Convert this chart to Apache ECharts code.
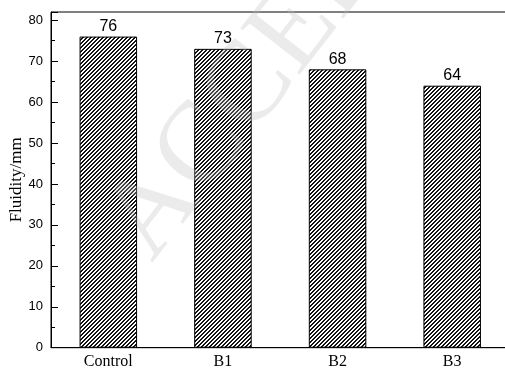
<!DOCTYPE html>
<html>
<head>
<meta charset="utf-8">
<script src="https://cdn.jsdelivr.net/npm/echarts@6/dist/echarts.min.js"></script>
<style>
  html, body { margin: 0; padding: 0; background: #fff; }
  #chart { width: 505px; height: 369px; }
</style>
</head>
<body>
<div id="chart"></div>
<script>
// Fluidity of each mix
const categories = ['Control', 'B1', 'B2', 'B3'];
const fluidity = [76, 73, 68, 64];

// Diagonal hatch tile used as the bar fill
function hatchPattern() {
  const n = 4;
  const c = document.createElement('canvas');
  c.width = n; c.height = n;
  const ctx = c.getContext('2d');
  ctx.fillStyle = '#fff';
  ctx.fillRect(0, 0, n, n);
  ctx.fillStyle = '#111';
  for (let i = 0; i < n; i++) {
    ctx.fillRect(i, n - 1 - i, 1, 1);
    ctx.fillRect(i, (n - i) % n, 1, 1);
  }
  return c;
}

const chart = echarts.init(document.getElementById('chart'), null, { renderer: 'canvas' });
const serif = '"Liberation Serif", "Times New Roman", serif';
const sans = '"Liberation Sans", Arial, sans-serif';

chart.setOption({
  animation: false,
  backgroundColor: '#fff',
  grid: {
    left: 51, top: 12, width: 458.5, height: 335.7,
    containLabel: false,
    outerBoundsMode: 'none',
    show: true, borderColor: '#000', borderWidth: 1
  },
  xAxis: {
    type: 'category',
    data: categories,
    axisLine: { lineStyle: { color: '#000', width: 1 } },
    axisTick: { show: false },
    axisLabel: { color: '#000', fontFamily: serif, fontSize: 16, margin: 6 },
    splitLine: { show: false }
  },
  yAxis: {
    type: 'value',
    min: 0, max: 82, interval: 10,
    name: 'Fluidity/mm',
    nameLocation: 'middle',
    nameGap: 26,
    nameMoveOverlap: false,
    nameTextStyle: { color: '#000', fontFamily: serif, fontSize: 17 },
    axisLine: { show: true, lineStyle: { color: '#000', width: 1 } },
    axisTick: { show: true, inside: true, length: 7, lineStyle: { color: '#000' } },
    minorTick: { show: true, splitNumber: 2, length: 4, lineStyle: { color: '#000' } },
    axisLabel: { color: '#000', fontFamily: sans, fontSize: 13, margin: 8,
      showMaxLabel: false },
    splitLine: { show: false }
  },
  series: [{
    type: 'bar',
    data: fluidity,
    barWidth: 57.5,
    itemStyle: {
      color: { image: hatchPattern(), repeat: 'repeat' },
      borderColor: '#000',
      borderWidth: 1
    },
    label: {
      show: true, position: 'top', distance: 2,
      color: '#000', fontFamily: sans, fontSize: 16
    }
  }],
  graphic: [{
    type: 'text',
    x: 128, y: 245,
    rotation: 52 * Math.PI / 180,
    silent: true,
    z: 100,
    style: {
      text: 'ACCEPTED MANUSCRIPT',
      font: '115px ' + serif,
      fill: 'rgba(190,190,190,0.3)',
      textAlign: 'left',
      textVerticalAlign: 'middle'
    }
  }]
});
</script>
</body>
</html>
